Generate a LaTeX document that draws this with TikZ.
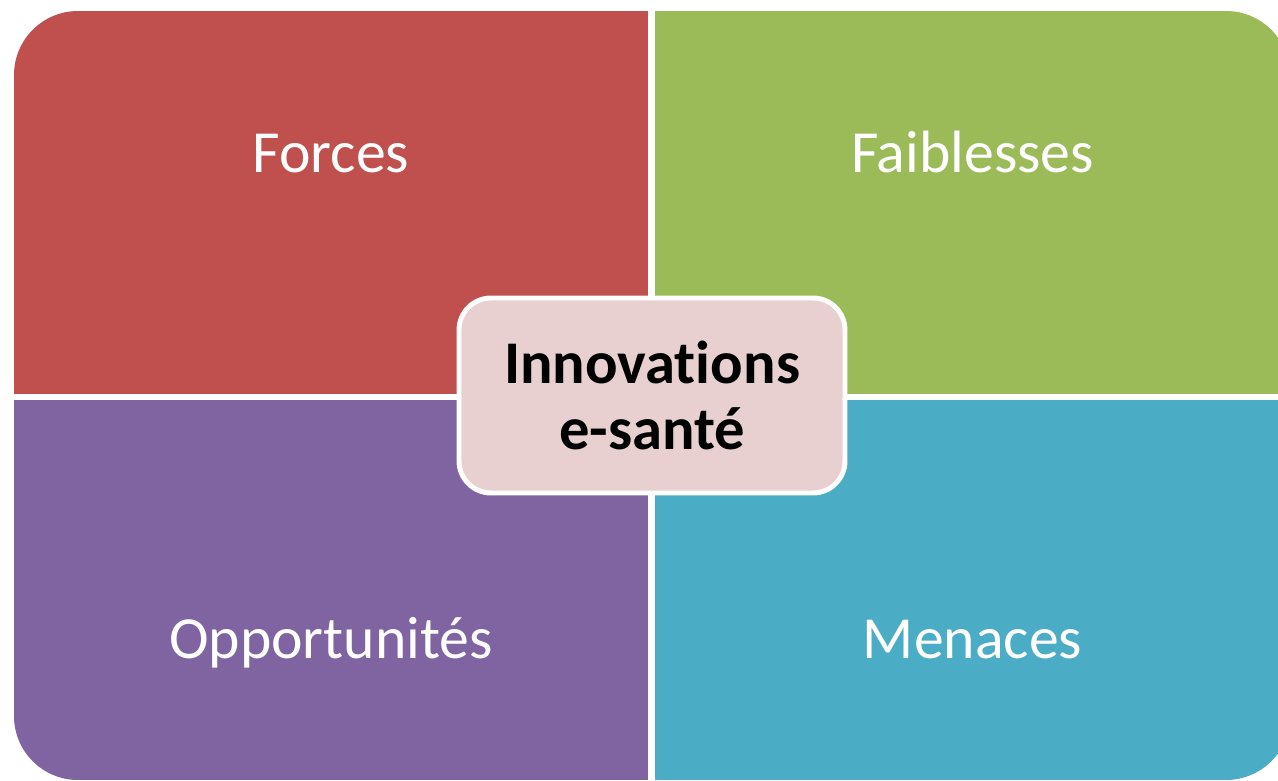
\documentclass[tikz,border=0pt]{standalone}
\usepackage{fontspec}
\setmainfont[Ligatures=NoCommon]{Carlito}
\usetikzlibrary{positioning}
\definecolor{forcescol}{HTML}{C0504D}
\definecolor{faiblcol}{HTML}{9BBB59}
\definecolor{opportcol}{HTML}{8064A2}
\definecolor{menacecol}{HTML}{4BACC6}
\definecolor{centrecol}{HTML}{E8D0D1}
\tikzstyle{quad} = [rectangle, inner sep=0pt, outer sep=0pt]
\tikzstyle{title} = [anchor=base, text=white, font=\fontsize{34}{40}\selectfont]
\tikzstyle{centre} = [rectangle, rounded corners=32*0.02cm, draw=white, line width=2.8pt,
    fill=centrecol, minimum width=386*0.02cm, minimum height=195*0.02cm,
    align=center, font=\fontsize{34.5}{38}\selectfont\bfseries]

\begin{document}
\begin{tikzpicture}[x=0.02cm, y=-0.02cm]
\useasboundingbox (0,0) rectangle (1278,781);
\begin{scope}
\clip[rounded corners=64*0.02cm] (14,11) rectangle (1290,780);
\node (forces) [quad, fill=forcescol, minimum width=634*0.02cm, minimum height=383*0.02cm] at (331,202.5) {};
\node (faibl) [quad, fill=faiblcol, minimum width=635*0.02cm, minimum height=383*0.02cm] at (972.5,202.5) {};
\node (opport) [quad, fill=opportcol, minimum width=634*0.02cm, minimum height=380*0.02cm] at (331,590) {};
\node (menace) [quad, fill=menacecol, minimum width=635*0.02cm, minimum height=380*0.02cm] at (972.5,590) {};
\end{scope}
\node (tforces) [title] at (331,172) {Forces};
\node (tfaibl) [title] at (972.5,172) {Faiblesses};
\node (topport) [title] at (331,658) {Opportunités};
\node (tmenace) [title] at (972.5,658) {Menaces};
\node (innov) [centre] at (652,395.5) {Innovations\\e-santé};
\end{tikzpicture}
\end{document}
